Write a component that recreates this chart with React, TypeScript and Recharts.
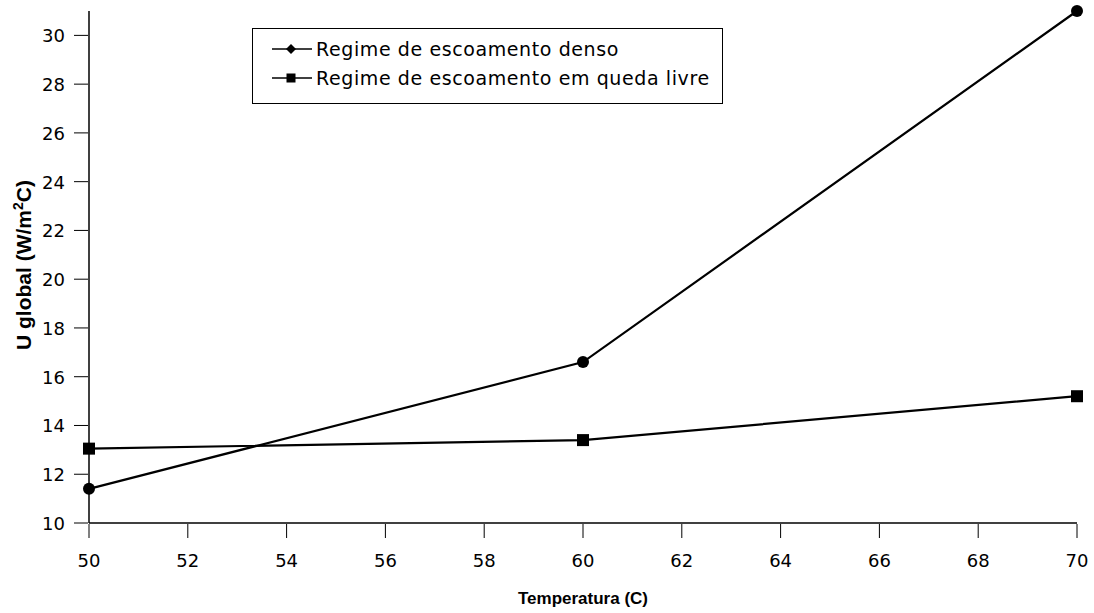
import { LineChart, Line, XAxis, YAxis, Legend } from "recharts";

const temperatures = [50, 60, 70];
const densoValues = [11.4, 16.6, 31.0];
const quedaLivreValues = [13.05, 13.4, 15.2];
const xTicks = [50, 52, 54, 56, 58, 60, 62, 64, 66, 68, 70];
const yTicks = [10, 12, 14, 16, 18, 20, 22, 24, 26, 28, 30];

const SERIES_DENSO = "Regime de escoamento denso";
const SERIES_QUEDA = "Regime de escoamento em queda livre";

const data = temperatures.map((t, i) => ({
  t,
  denso: densoValues[i],
  queda: quedaLivreValues[i],
}));

const FONT = "'Liberation Sans', Arial, sans-serif";
const WIDE = "'DejaVu Sans', sans-serif";

function XTick(props: any) {
  const { x, y, payload } = props;
  return (
    <g>
      <line x1={x} x2={x} y1={y - 7} y2={y + 7} stroke="#000" strokeWidth={1} />
      <text x={x} y={y + 36} textAnchor="middle" fontSize={18} fontFamily={WIDE} fill="#000">
        {payload.value}
      </text>
    </g>
  );
}

function YTick(props: any) {
  const { x, y, payload } = props;
  return (
    <g>
      <line x1={x - 7} x2={x + 7} y1={y} y2={y} stroke="#000" strokeWidth={1} />
      <text x={x - 16} y={y + 7} textAnchor="end" fontSize={18} fontFamily={WIDE} fill="#000">
        {payload.value}
      </text>
    </g>
  );
}

function DiamondDot(props: any) {
  const { cx, cy, index } = props;
  if (cx == null || cy == null) return <g key={index} />;
  return <circle key={index} cx={cx} cy={cy} r={6} fill="#000" />;
}

function SquareDot(props: any) {
  const { cx, cy, index } = props;
  if (cx == null || cy == null) return <g key={index} />;
  return <rect key={index} x={cx - 6} y={cy - 6} width={12} height={12} fill="#000" />;
}

function LegendBox() {
  const rows = [
    { name: SERIES_DENSO, square: false },
    { name: SERIES_QUEDA, square: true },
  ];
  return (
    <div
      style={{
        border: "1.5px solid #000",
        background: "#fff",
        width: 471,
        height: 76,
        boxSizing: "border-box",
        padding: "5px 0 0 19px",
        fontFamily: WIDE,
        fontSize: 19,
        letterSpacing: 0.6,
        color: "#000",
        textAlign: "left",
        whiteSpace: "nowrap",
      }}
    >
      {rows.map((r) => (
        <div key={r.name} style={{ display: "flex", alignItems: "center", height: 29 }}>
          <svg width={40} height={14} style={{ marginRight: 4 }}>
            <line x1={0} x2={40} y1={7} y2={7} stroke="#000" strokeWidth={1.5} />
            {r.square ? (
              <rect x={14.5} y={2.5} width={9} height={9} fill="#000" />
            ) : (
              <polygon points="19,2 24,7 19,12 14,7" fill="#000" />
            )}
          </svg>
          <span>{r.name}</span>
        </div>
      ))}
    </div>
  );
}

function YLabel() {
  const cx = 31;
  const cy = 265;
  return (
    <text
      x={cx}
      y={cy}
      transform={`rotate(-90 ${cx} ${cy})`}
      textAnchor="middle"
      fontSize={21}
      fontWeight="bold"
      fontFamily={FONT}
      fill="#000"
    >
      <tspan>U global (W/m</tspan>
      <tspan fontSize={14} dy={-8}>2</tspan>
      <tspan dy={8}>C)</tspan>
    </text>
  );
}

function XLabel() {
  return (
    <text x={583} y={604} textAnchor="middle" fontSize={17} fontWeight="bold" fontFamily={FONT} fill="#000">
      Temperatura (C)
    </text>
  );
}

export default function App() {
  return (
    <div style={{ position: "absolute", left: 0, top: 0, background: "#fff" }}>
      <LineChart width={1094} height={613} data={data} margin={{ top: 11, right: 17, bottom: 40, left: 0 }}>
        <XAxis
          xAxisId="top"
          orientation="top"
          dataKey="t"
          type="number"
          domain={[50, 70]}
          height={0}
          tick={false}
          tickLine={false}
          axisLine={{ stroke: "#000", strokeWidth: 1, strokeDasharray: "3 1" }}
        />
        <YAxis
          yAxisId="right"
          orientation="right"
          type="number"
          domain={[10, 31]}
          width={0}
          tick={false}
          tickLine={false}
          axisLine={{ stroke: "#000", strokeWidth: 1.5 }}
        />
        <XAxis
          dataKey="t"
          type="number"
          domain={[50, 70]}
          ticks={xTicks}
          height={50}
          interval={0}
          tickLine={false}
          tick={<XTick />}
          axisLine={{ stroke: "#000", strokeWidth: 1.5 }}
          label={<XLabel />}
        />
        <YAxis
          type="number"
          domain={[10, 31]}
          ticks={yTicks}
          width={89}
          interval={0}
          tickLine={false}
          tick={<YTick />}
          axisLine={{ stroke: "#000", strokeWidth: 1.5 }}
          label={<YLabel />}
        />
        <Legend
          layout="horizontal"
          verticalAlign="middle"
          align="center"
          wrapperStyle={{ position: "absolute", left: 252, top: 28, width: "auto", height: "auto" }}
          content={<LegendBox />}
        />
        <Line
          type="linear"
          dataKey="denso"
          name={SERIES_DENSO}
          stroke="#000"
          strokeWidth={2.2}
          dot={DiamondDot}
          activeDot={false}
          isAnimationActive={false}
        />
        <Line
          type="linear"
          dataKey="queda"
          name={SERIES_QUEDA}
          stroke="#000"
          strokeWidth={2.2}
          dot={SquareDot}
          activeDot={false}
          isAnimationActive={false}
        />
      </LineChart>
    </div>
  );
}
